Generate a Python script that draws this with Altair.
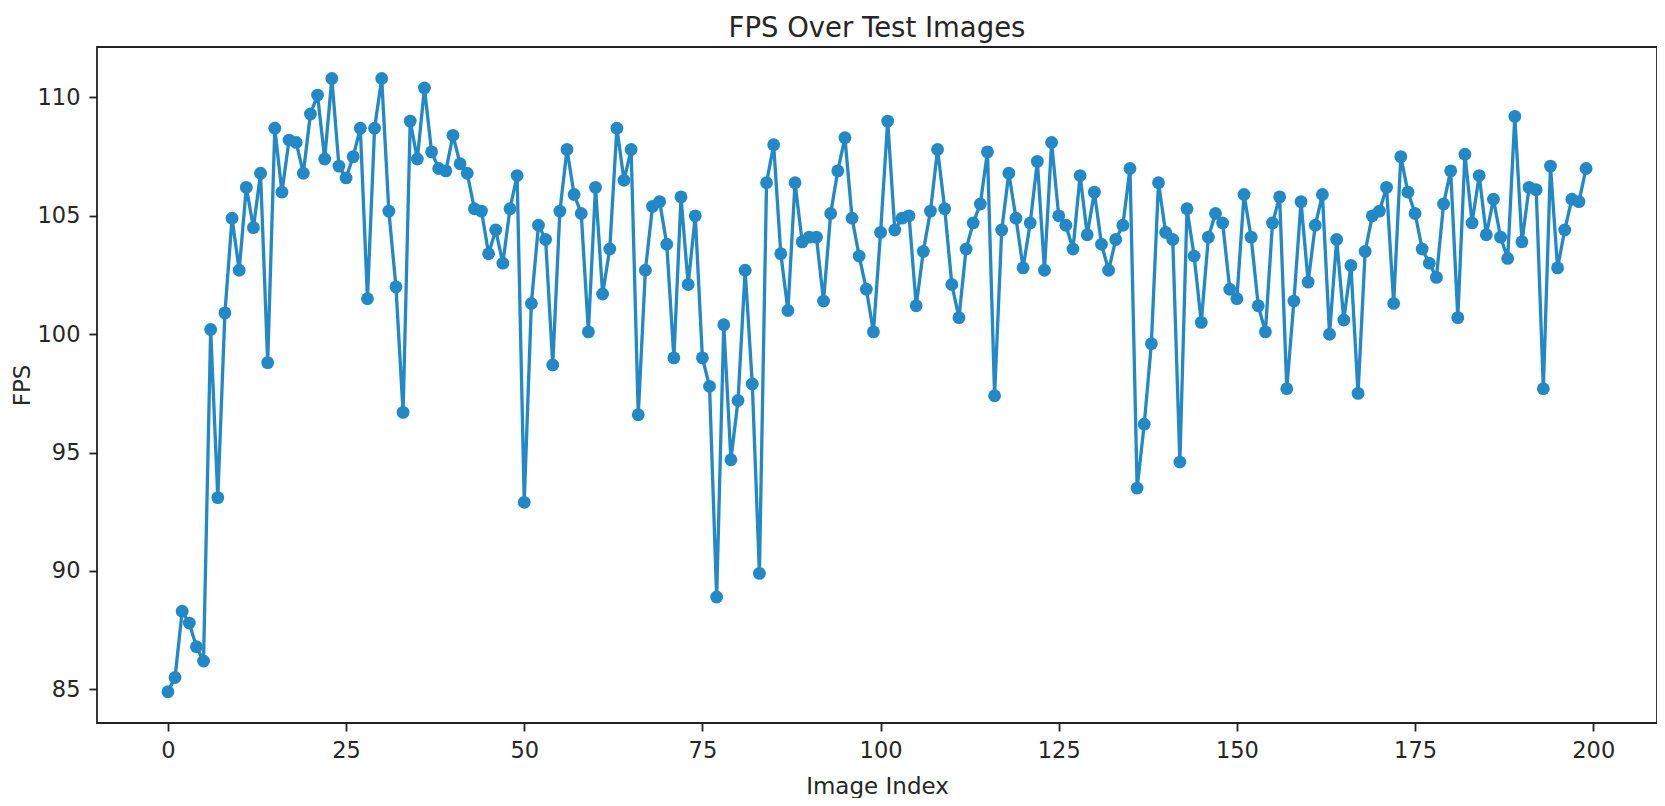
import altair as alt
import pandas as pd

fps = [
    84.9, 85.5, 88.3, 87.8, 86.8, 86.2, 100.2, 93.1, 100.9, 104.9,
    102.7, 106.2, 104.5, 106.8, 98.8, 108.7, 106.0, 108.2, 108.1, 106.8,
    109.3, 110.1, 107.4, 110.8, 107.1, 106.6, 107.5, 108.7, 101.5, 108.7,
    110.8, 105.2, 102.0, 96.7, 109.0, 107.4, 110.4, 107.7, 107.0, 106.9,
    108.4, 107.2, 106.8, 105.3, 105.2, 103.4, 104.4, 103.0, 105.3, 106.7,
    92.9, 101.3, 104.6, 104.0, 98.7, 105.2, 107.8, 105.9, 105.1, 100.1,
    106.2, 101.7, 103.6, 108.7, 106.5, 107.8, 96.6, 102.7, 105.4, 105.6,
    103.8, 99.0, 105.8, 102.1, 105.0, 99.0, 97.8, 88.9, 100.4, 94.7,
    97.2, 102.7, 97.9, 89.9, 106.4, 108.0, 103.4, 101.0, 106.4, 103.9,
    104.1, 104.1, 101.4, 105.1, 106.9, 108.3, 104.9, 103.3, 101.9, 100.1,
    104.3, 109.0, 104.4, 104.9, 105.0, 101.2, 103.5, 105.2, 107.8, 105.3,
    102.1, 100.7, 103.6, 104.7, 105.5, 107.7, 97.4, 104.4, 106.8, 104.9,
    102.8, 104.7, 107.3, 102.7, 108.1, 105.0, 104.6, 103.6, 106.7, 104.2,
    106.0, 103.8, 102.7, 104.0, 104.6, 107.0, 93.5, 96.2, 99.6, 106.4,
    104.3, 104.0, 94.6, 105.3, 103.3, 100.5, 104.1, 105.1, 104.7, 101.9,
    101.5, 105.9, 104.1, 101.2, 100.1, 104.7, 105.8, 97.7, 101.4, 105.6,
    102.2, 104.6, 105.9, 100.0, 104.0, 100.6, 102.9, 97.5, 103.5, 105.0,
    105.2, 106.2, 101.3, 107.5, 106.0, 105.1, 103.6, 103.0, 102.4, 105.5,
    106.9, 100.7, 107.6, 104.7, 106.7, 104.2, 105.7, 104.1, 103.2, 109.2,
    103.9, 106.2, 106.1, 97.7, 107.1, 102.8, 104.4, 105.7, 105.6, 107.0,
]
index = list(range(len(fps)))
x_ticks = [0, 25, 50, 75, 100, 125, 150, 175, 200]
y_ticks = [85, 90, 95, 100, 105, 110]

df = pd.DataFrame({"Image Index": index, "FPS": fps})

COLOR = "#2388c6"
FONT = "DejaVu Sans"

base = alt.Chart(df)

line = base.mark_line(color=COLOR, strokeWidth=3.3).encode(
    x=alt.X(
        "Image Index:Q",
        scale=alt.Scale(domain=[-9.95, 208.95], nice=False, zero=False),
        axis=alt.Axis(
            values=x_ticks,
            title="Image Index",
            grid=False,
            labelFlush=False,
            titleY=70,
            titleBaseline="alphabetic",
            labelPadding=8,
        ),
    ),
    y=alt.Y(
        "FPS:Q",
        scale=alt.Scale(domain=[83.58, 112.13], nice=False, zero=False),
        axis=alt.Axis(
            values=y_ticks,
            title="FPS",
            grid=False,
            labelFlush=False,
            titleX=-75,
            titleY=338,
            titleBaseline="middle",
            titleAlign="center",
            labelPadding=9,
        ),
    ),
)

points = base.mark_circle(color=COLOR, size=165, opacity=1).encode(
    x="Image Index:Q",
    y="FPS:Q",
)

chart = (
    alt.layer(line, points)
    .properties(
        width=1560,
        height=676,
        title=alt.TitleParams("FPS Over Test Images", offset=5),
        autosize=alt.AutoSizeParams(type="none"),
        padding={"left": 89, "top": 39, "right": 0, "bottom": 75},
        background="white",
    )
    .configure_view(stroke="#222222", strokeWidth=1.8)
    .configure_axis(
        domain=False,
        tickColor="#222222",
        tickWidth=1.8,
        tickSize=8,
        labelFont=FONT,
        labelFontSize=22.5,
        labelColor="#262626",
        titleFont=FONT,
        titleFontSize=23,
        titleFontWeight="normal",
        titleColor="#262626",
    )
    .configure_title(
        font=FONT,
        fontSize=27.5,
        fontWeight="normal",
        color="#262626",
        anchor="middle",
    )
)

chart.save("out.html", embed_options={"renderer": "svg", "actions": False})
